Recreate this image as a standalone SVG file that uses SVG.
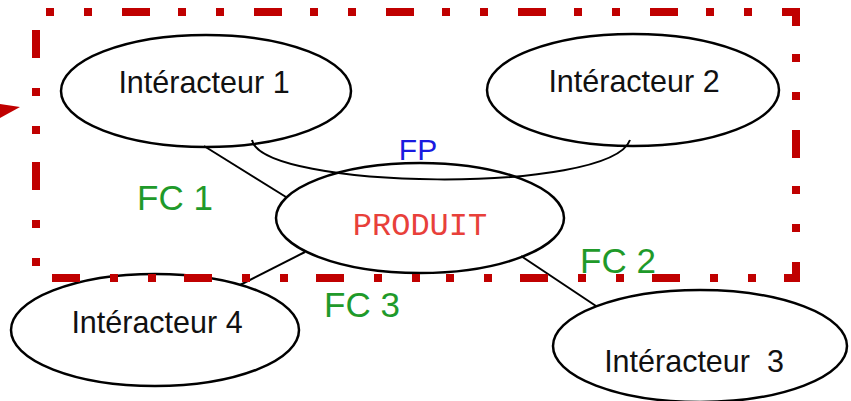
<svg xmlns="http://www.w3.org/2000/svg" width="851" height="401" viewBox="0 0 851 401">
  <style>
    .node { fill: #ffffff; stroke: #000000; stroke-width: 2.5; }
    .lbl { font-family: "Liberation Sans", Arial, sans-serif; font-size: 30.5px; fill: #111111; text-anchor: middle; }
    .prod { font-family: "Liberation Mono", "Courier New", monospace; font-size: 32px; fill: #E8403A; text-anchor: middle; }
    .conn { fill: none; stroke: #000000; stroke-width: 2; }
    .fc { font-family: "Liberation Sans", Arial, sans-serif; font-size: 35px; fill: #1F9A2A; text-anchor: middle; }
    .fp { font-family: "Liberation Sans", Arial, sans-serif; font-size: 30px; fill: #1A1AE0; text-anchor: middle; }
    .frame { fill: none; stroke: #C00000; stroke-width: 8; stroke-dasharray: 8 30 8 30 28 28; stroke-linejoin: miter; stroke-linecap: butt; }
  </style>

  <g id="interacteur1">
    <ellipse class="node" cx="206" cy="91" rx="145" ry="56"/>
    <text class="lbl" x="204" y="93">Intéracteur 1</text>
  </g>
  <g id="interacteur2">
    <ellipse class="node" cx="633" cy="90" rx="146" ry="56"/>
    <text class="lbl" x="634" y="92">Intéracteur 2</text>
  </g>
  <g id="interacteur4">
    <ellipse class="node" cx="155" cy="330" rx="144" ry="56"/>
    <text class="lbl" x="157" y="333">Intéracteur 4</text>
  </g>
  <g id="interacteur3">
    <ellipse class="node" cx="700" cy="346" rx="147" ry="56"/>
    <text class="lbl" x="694" y="372" style="white-space:pre" xml:space="preserve">Intéracteur  3</text>
  </g>
  <g id="produit">
    <ellipse class="node" cx="420" cy="218" rx="144" ry="55"/>
    <text class="prod" x="420" y="235">PRODUIT</text>
  </g>

  <g id="connectors">
    <path class="conn" d="M252,140 C262,190 610,195 630,140"/>
    <line class="conn" x1="204" y1="146" x2="286" y2="197"/>
    <line class="conn" x1="305" y1="252" x2="240" y2="285"/>
    <line class="conn" x1="521" y1="256" x2="596" y2="306"/>
    <text class="fp" x="418" y="160">FP</text>
    <text class="fc" x="175" y="210">FC 1</text>
    <text class="fc" x="618" y="273">FC 2</text>
    <text class="fc" x="362" y="317">FC 3</text>
  </g>

  <g id="frame">
    <path class="frame" d="M420,278 L36,278 L36,12 L796,12 L796,278 Z"/>
    <polygon points="0,104 20,107 0,118" fill="#C00000"/>
  </g>
</svg>
